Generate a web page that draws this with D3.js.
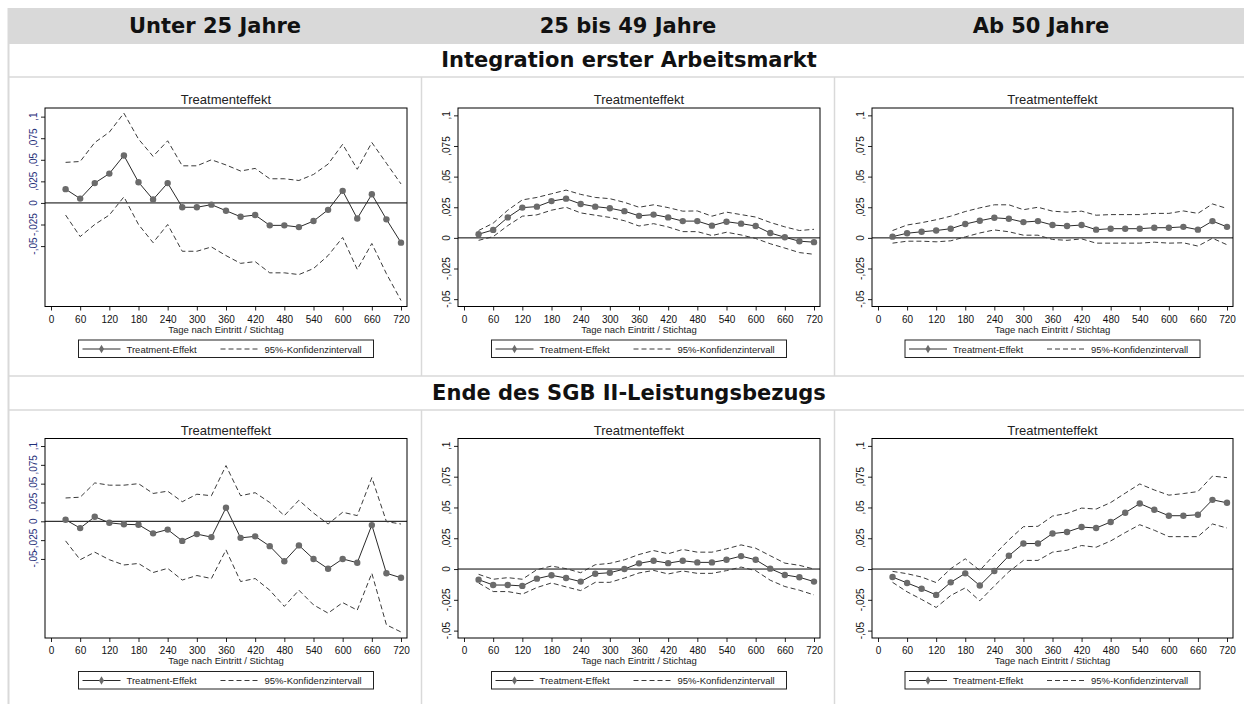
<!DOCTYPE html>
<html>
<head>
<meta charset="utf-8">
<script src="https://cdn.jsdelivr.net/npm/d3@7"></script>
<style>
  body { margin: 0; background: #fff; }
  svg { display: block; }
</style>
</head>
<body>
<svg id="chart" width="1244" height="704"></svg>
<script>
// Column and section labels
const columnHeaders = ["Unter 25 Jahre", "25 bis 49 Jahre", "Ab 50 Jahre"];
const sectionTitles = ["Integration erster Arbeitsmarkt", "Ende des SGB II-Leistungsbezugs"];
const panelTitle = "Treatmenteffekt";
const xAxisTitle = "Tage nach Eintritt / Stichtag";
const legendLabels = ["Treatment-Effekt", "95%-Konfidenzintervall"];

// Days after entry (x values) and axis ticks
const days = [30, 60, 90, 120, 150, 180, 210, 240, 270, 300, 330, 360,
              390, 420, 450, 480, 510, 540, 570, 600, 630, 660, 690, 720];
const xTicks = [0, 60, 120, 180, 240, 300, 360, 420, 480, 540, 600, 660, 720];
const yTicks = [-0.05, -0.025, 0, 0.025, 0.05, 0.075, 0.1];

// Integration erster Arbeitsmarkt - unter 25
const intU25Effect = [0.016, 0.005, 0.023, 0.034, 0.055, 0.024, 0.004, 0.023, -0.005, -0.005, -0.002, -0.009,
                      -0.016, -0.014, -0.026, -0.026, -0.028, -0.021, -0.008, 0.014, -0.018, 0.010, -0.019, -0.046];
const intU25Upper  = [0.047, 0.048, 0.070, 0.082, 0.104, 0.074, 0.054, 0.072, 0.043, 0.043, 0.050, 0.044,
                      0.037, 0.040, 0.028, 0.028, 0.026, 0.033, 0.045, 0.068, 0.039, 0.070, 0.046, 0.022];
const intU25Lower  = [-0.014, -0.039, -0.025, -0.014, 0.007, -0.025, -0.046, -0.025, -0.056, -0.056, -0.051, -0.061,
                      -0.070, -0.068, -0.081, -0.081, -0.083, -0.076, -0.061, -0.040, -0.077, -0.047, -0.082, -0.113];

// Integration erster Arbeitsmarkt - 25 bis 49
const int2549Effect = [0.003, 0.0065, 0.0167, 0.0247, 0.0255, 0.030, 0.032, 0.0277, 0.0255, 0.0242, 0.0218, 0.018,
                       0.019, 0.0167, 0.0137, 0.0137, 0.010, 0.0132, 0.0116, 0.0097, 0.004, 0.0005, -0.0027, -0.0035];
const int2549Upper  = [0.006, 0.012, 0.0226, 0.031, 0.033, 0.036, 0.039, 0.0355, 0.033, 0.032, 0.029, 0.025,
                       0.027, 0.0247, 0.0218, 0.022, 0.0177, 0.021, 0.019, 0.017, 0.0126, 0.009, 0.006, 0.007];
const int2549Lower  = [-0.002, 0.001, 0.010, 0.0177, 0.0188, 0.0226, 0.025, 0.0204, 0.0185, 0.0167, 0.014, 0.0097,
                       0.0116, 0.0089, 0.0051, 0.0051, 0.0019, 0.0046, 0.0024, -0.0005, -0.0048, -0.0083, -0.012, -0.0134];

// Integration erster Arbeitsmarkt - ab 50
const int50Effect = [0.001, 0.0038, 0.005, 0.006, 0.0075, 0.0113, 0.014, 0.0164, 0.0156, 0.0129, 0.0137, 0.0105,
                     0.0097, 0.0105, 0.0067, 0.0075, 0.0075, 0.0075, 0.0083, 0.0083, 0.009, 0.0067, 0.0137, 0.009];
const int50Upper  = [0.006, 0.0105, 0.0124, 0.0148, 0.0177, 0.0215, 0.0245, 0.027, 0.027, 0.023, 0.025, 0.0218,
                     0.021, 0.0218, 0.0185, 0.019, 0.019, 0.019, 0.020, 0.020, 0.022, 0.020, 0.0277, 0.024];
const int50Lower  = [-0.0043, -0.0027, -0.0027, -0.0032, -0.0024, 0.0008, 0.004, 0.0065, 0.005, 0.0022, 0.0022, -0.0013,
                     -0.002, -0.0008, -0.0043, -0.0043, -0.0043, -0.0043, -0.0035, -0.0043, -0.004, -0.0067, -0.0003, -0.0056];

// Ende des SGB II-Leistungsbezugs - unter 25
const endU25Effect = [0.002, -0.009, 0.006, -0.002, -0.004, -0.0045, -0.016, -0.011, -0.026, -0.017, -0.021, 0.018,
                      -0.022, -0.020, -0.033, -0.053, -0.032, -0.050, -0.063, -0.050, -0.055, -0.005, -0.069, -0.075];
const endU25Upper  = [0.031, 0.032, 0.051, 0.048, 0.048, 0.050, 0.037, 0.040, 0.026, 0.036, 0.034, 0.074,
                      0.034, 0.038, 0.025, 0.0076, 0.028, 0.011, -0.0036, 0.012, 0.0076, 0.058, -0.0004, -0.0036];
const endU25Lower  = [-0.026, -0.051, -0.041, -0.051, -0.058, -0.056, -0.068, -0.0625, -0.078, -0.072, -0.076, -0.038,
                      -0.080, -0.076, -0.0915, -0.113, -0.0915, -0.111, -0.122, -0.108, -0.118, -0.069, -0.1375, -0.147];

// Ende des SGB II-Leistungsbezugs - 25 bis 49
const end2549Effect = [-0.0086, -0.013, -0.013, -0.0137, -0.0078, -0.0051, -0.0073, -0.0102, -0.0038, -0.003, 0.0, 0.0046,
                       0.0067, 0.0048, 0.0067, 0.0054, 0.0054, 0.0075, 0.0105, 0.0075, 0.0003, -0.0048, -0.0067, -0.0102];
const end2549Upper  = [-0.0043, -0.0083, -0.007, -0.0083, -0.0005, 0.0024, 0.0003, -0.003, 0.0035, 0.0046, 0.0075, 0.0118,
                       0.015, 0.0124, 0.0159, 0.0137, 0.0137, 0.0164, 0.0196, 0.0169, 0.0108, 0.0048, 0.003, 0.0];
const end2549Lower  = [-0.0113, -0.0183, -0.0183, -0.0204, -0.015, -0.0113, -0.0145, -0.0175, -0.0108, -0.0108, -0.0073, -0.0032,
                       -0.0011, -0.004, -0.0016, -0.0035, -0.0035, -0.0013, 0.0016, -0.0013, -0.0091, -0.0142, -0.0172, -0.021];

// Ende des SGB II-Leistungsbezugs - ab 50
const end50Effect = [-0.0065, -0.0113, -0.016, -0.021, -0.0108, -0.0035, -0.0134, -0.0016, 0.0108, 0.0207, 0.0207, 0.0288,
                     0.0301, 0.0341, 0.0333, 0.0382, 0.0457, 0.0532, 0.0481, 0.0433, 0.0433, 0.0441, 0.0562, 0.0538];
const end50Upper  = [-0.0019, -0.0038, -0.0065, -0.011, 0.0003, 0.0083, -0.0011, 0.0116, 0.0237, 0.0344, 0.0347, 0.043,
                     0.0452, 0.0495, 0.0487, 0.054, 0.0616, 0.0691, 0.0642, 0.060, 0.0613, 0.0629, 0.0755, 0.0742];
const end50Lower  = [-0.0108, -0.0185, -0.0247, -0.0312, -0.0215, -0.0153, -0.0258, -0.0137, -0.0022, 0.007, 0.007, 0.0137,
                     0.0153, 0.0191, 0.0177, 0.0228, 0.0296, 0.036, 0.0315, 0.0263, 0.0263, 0.0263, 0.0366, 0.0333];

// Panel definitions: which series go where, plus the y-range Stata picked
const panels = [
  { row: 0, col: 0, effect: intU25Effect,  upper: intU25Upper,  lower: intU25Lower,  yDomain: [-0.12, 0.11],   tickColor: "#1f2f7a" },
  { row: 0, col: 1, effect: int2549Effect, upper: int2549Upper, lower: int2549Lower, yDomain: [-0.056, 0.106], tickColor: "#111" },
  { row: 0, col: 2, effect: int50Effect,   upper: int50Upper,   lower: int50Lower,   yDomain: [-0.056, 0.106], tickColor: "#111" },
  { row: 1, col: 0, effect: endU25Effect,  upper: endU25Upper,  lower: endU25Lower,  yDomain: [-0.155, 0.11],  tickColor: "#1f2f7a" },
  { row: 1, col: 1, effect: end2549Effect, upper: end2549Upper, lower: end2549Lower, yDomain: [-0.056, 0.106], tickColor: "#111" },
  { row: 1, col: 2, effect: end50Effect,   upper: end50Upper,   lower: end50Lower,   yDomain: [-0.056, 0.106], tickColor: "#111" }
];

const svg = d3.select("#chart");
const W = 1244, H = 704;
const gridColor = "#d9d9d9";
const headFont = "'DejaVu Sans', Verdana, sans-serif";
const plotFont = "'Liberation Sans', Arial, sans-serif";

// Frame positions of the plot regions
const colFrames = [{ left: 45, right: 407 }, { left: 458, right: 820 }, { left: 872, right: 1233 }];
const rowFrames = [{ top: 108, bottom: 306.5 }, { top: 438.5, bottom: 638 }];
const colCenters = [215, 628, 1041];
const colDividers = [421.5, 834.5];

// ---- table background & grid ----
svg.append("rect").attr("x", 8).attr("y", 8).attr("width", W - 8).attr("height", 36).attr("fill", gridColor);

svg.append("line").attr("x1", 8.5).attr("x2", 8.5).attr("y1", 8).attr("y2", H)
  .attr("stroke", gridColor).attr("stroke-width", 2);

[77, 376, 410].forEach(yy => {
  svg.append("line").attr("x1", 8).attr("x2", W).attr("y1", yy).attr("y2", yy)
    .attr("stroke", gridColor).attr("stroke-width", 1.5);
});

[[77, 376], [410, H]].forEach(([y1, y2]) => {
  colDividers.forEach(xx => {
    svg.append("line").attr("x1", xx).attr("x2", xx).attr("y1", y1).attr("y2", y2)
      .attr("stroke", gridColor).attr("stroke-width", 1.5);
  });
});

// Column headers and section titles
columnHeaders.forEach((t, i) => {
  svg.append("text").attr("x", colCenters[i]).attr("y", 33)
    .attr("text-anchor", "middle").style("font-family", headFont)
    .style("font-weight", "bold").style("font-size", "21px").attr("fill", "#111").text(t);
});
[67, 400].forEach((yy, i) => {
  svg.append("text").attr("x", 629).attr("y", yy)
    .attr("text-anchor", "middle").style("font-family", headFont)
    .style("font-weight", "bold").style("font-size", "21px").attr("fill", "#111").text(sectionTitles[i]);
});

// y tick label format: German decimal comma, no leading zero
const fmtY = v => v === 0 ? "0" : (v < 0 ? "-" : "") + String(Math.abs(v)).replace("0.", ",");

// ---- draw each panel ----
panels.forEach(p => {
  const cf = colFrames[p.col], rf = rowFrames[p.row];
  const g = svg.append("g");
  const cx = (cf.left + cf.right) / 2;

  const x = d3.scaleLinear().domain([0, 720]).range([cf.left + 6, cf.right - 6]);
  const y = d3.scaleLinear().domain(p.yDomain).range([rf.bottom, rf.top]);

  // title
  g.append("text").attr("x", cx).attr("y", rf.top - 4).attr("text-anchor", "middle")
    .style("font-family", plotFont).style("font-size", "13px").attr("fill", "#222").text(panelTitle);

  // x axis
  const xAxis = g.append("g").attr("transform", `translate(0,${rf.bottom})`)
    .call(d3.axisBottom(x).tickValues(xTicks).tickSize(4).tickPadding(5).tickFormat(d3.format("d")));
  xAxis.select(".domain").remove();
  xAxis.selectAll("line").attr("stroke", "#222");
  xAxis.selectAll("text").style("font-family", plotFont).style("font-size", "10px").attr("fill", "#111");

  g.append("text").attr("x", cx).attr("y", rf.bottom + 26).attr("text-anchor", "middle")
    .style("font-family", plotFont).style("font-size", "9.5px").attr("fill", "#222").text(xAxisTitle);

  // y axis (ticks via d3, rotated labels placed by hand)
  const yAxis = g.append("g").attr("transform", `translate(${cf.left},0)`)
    .call(d3.axisLeft(y).tickValues(yTicks).tickSize(4).tickFormat(""));
  yAxis.select(".domain").remove();
  yAxis.selectAll("line").attr("stroke", "#222");
  g.selectAll(".ylab").data(yTicks).enter().append("text")
    .attr("transform", d => `translate(${cf.left - 8},${y(d)}) rotate(-90)`)
    .attr("text-anchor", "middle")
    .style("font-family", plotFont).style("font-size", "10px")
    .attr("fill", p.tickColor).text(fmtY);

  // zero line
  g.append("line").attr("x1", cf.left).attr("x2", cf.right).attr("y1", y(0)).attr("y2", y(0))
    .attr("stroke", "#000").attr("stroke-width", 1);

  // confidence bands (dashed)
  const line = d3.line().x((d, i) => x(days[i])).y(d => y(d));
  [p.upper, p.lower].forEach(s => {
    g.append("path").datum(s).attr("d", line).attr("fill", "none")
      .attr("stroke", "#3a3a3a").attr("stroke-width", 1).attr("stroke-dasharray", "5,3");
  });

  // treatment effect
  g.append("path").datum(p.effect).attr("d", line).attr("fill", "none")
    .attr("stroke", "#2a2a2a").attr("stroke-width", 1);
  g.selectAll(".pt").data(p.effect).enter().append("circle")
    .attr("cx", (d, i) => x(days[i])).attr("cy", d => y(d)).attr("r", 3.2)
    .attr("fill", "#6b6b6b");

  // frame
  g.append("rect").attr("x", cf.left).attr("y", rf.top)
    .attr("width", cf.right - cf.left).attr("height", rf.bottom - rf.top)
    .attr("fill", "none").attr("stroke", "#000").attr("stroke-width", 1);

  // legend
  const lx = cx - 147.5, ly = rf.bottom + 33.5;
  const lg = g.append("g").attr("transform", `translate(${lx},${ly})`);
  lg.append("rect").attr("width", 295).attr("height", 17.5)
    .attr("fill", "#fff").attr("stroke", "#222").attr("stroke-width", 1);
  lg.append("line").attr("x1", 4).attr("x2", 42).attr("y1", 9).attr("y2", 9).attr("stroke", "#2a2a2a");
  lg.append("path").attr("d", d3.symbol(d3.symbolDiamond, 22)()).attr("transform", "translate(23,9)").attr("fill", "#6b6b6b");
  lg.append("text").attr("x", 48).attr("y", 12.5).style("font-family", plotFont).style("font-size", "9.5px")
    .attr("fill", "#222").text(legendLabels[0]);
  lg.append("line").attr("x1", 142).attr("x2", 182).attr("y1", 9).attr("y2", 9)
    .attr("stroke", "#3a3a3a").attr("stroke-dasharray", "5,3");
  lg.append("text").attr("x", 186).attr("y", 12.5).style("font-family", plotFont).style("font-size", "9.5px")
    .attr("fill", "#222").text(legendLabels[1]);
});
</script>
</body>
</html>
